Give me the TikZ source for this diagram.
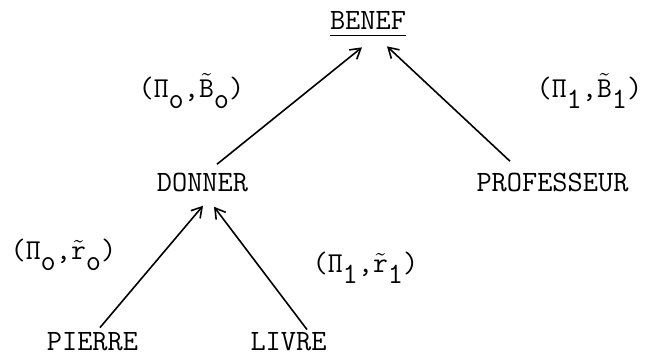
\documentclass[tikz,border=0pt]{standalone}
\usetikzlibrary{arrows.meta}
\newcommand{\lowsub}[1]{\raisebox{-0.35em}{#1}}
\begin{document}
\begin{tikzpicture}[
  x=0.5pt, y=-0.5pt,
  w/.style={inner sep=0pt, anchor=base, font={\fontsize{14.75}{17}\selectfont\ttfamily}},
  arr/.style={-{Straight Barb[length=5pt,width=6pt]}, line width=0.8pt}
]
  \useasboundingbox (0,0) rectangle (645,356);
  % tree
  \node[w] (benef)  at (368,30)    {\underline{BENEF\rule[-0.1em]{0pt}{0pt}}};
  \node[w] (donner) at (202.5,192) {DONNER};
  \node[w] (prof)   at (552.5,192) {PROFESSEUR};
  \node[w] (pierre) at (92.5,351)  {PIERRE};
  \node[w] (livre)  at (288.5,351) {LIVRE};

  % pairs on the branches
  \node[w] (pb0) at (191.5,98) {($\mathtt{\Pi}$\lowsub{o},$\tilde{\mathtt{B}}$\lowsub{o})};
  \node[w] (pb1) at (589.5,98) {($\mathtt{\Pi}$\lowsub{1},$\tilde{\mathtt{B}}$\lowsub{1})};
  \node[w] (pr0) at (63.5,260) {($\mathtt{\Pi}$\lowsub{o},$\tilde{\mathtt{r}}$\lowsub{o})};
  \node[w] (pr1) at (365.5,273) {($\mathtt{\Pi}$\lowsub{1},$\tilde{\mathtt{r}}$\lowsub{1})};

  \draw[arr] ([shift={(14.5,-9)}]donner.north) -- ([shift={(-6,10)}]benef.south);
  \draw[arr] ([shift={(-42.5,-12)}]prof.north) -- ([shift={(19,9)}]benef.south);
  \draw[arr] ([shift={(7.5,-5)}]pierre.north) -- ([shift={(0.5,13)}]donner.south);
  \draw[arr] ([shift={(18.5,-3)}]livre.north) -- ([shift={(11.5,14)}]donner.south);
\end{tikzpicture}
\end{document}
